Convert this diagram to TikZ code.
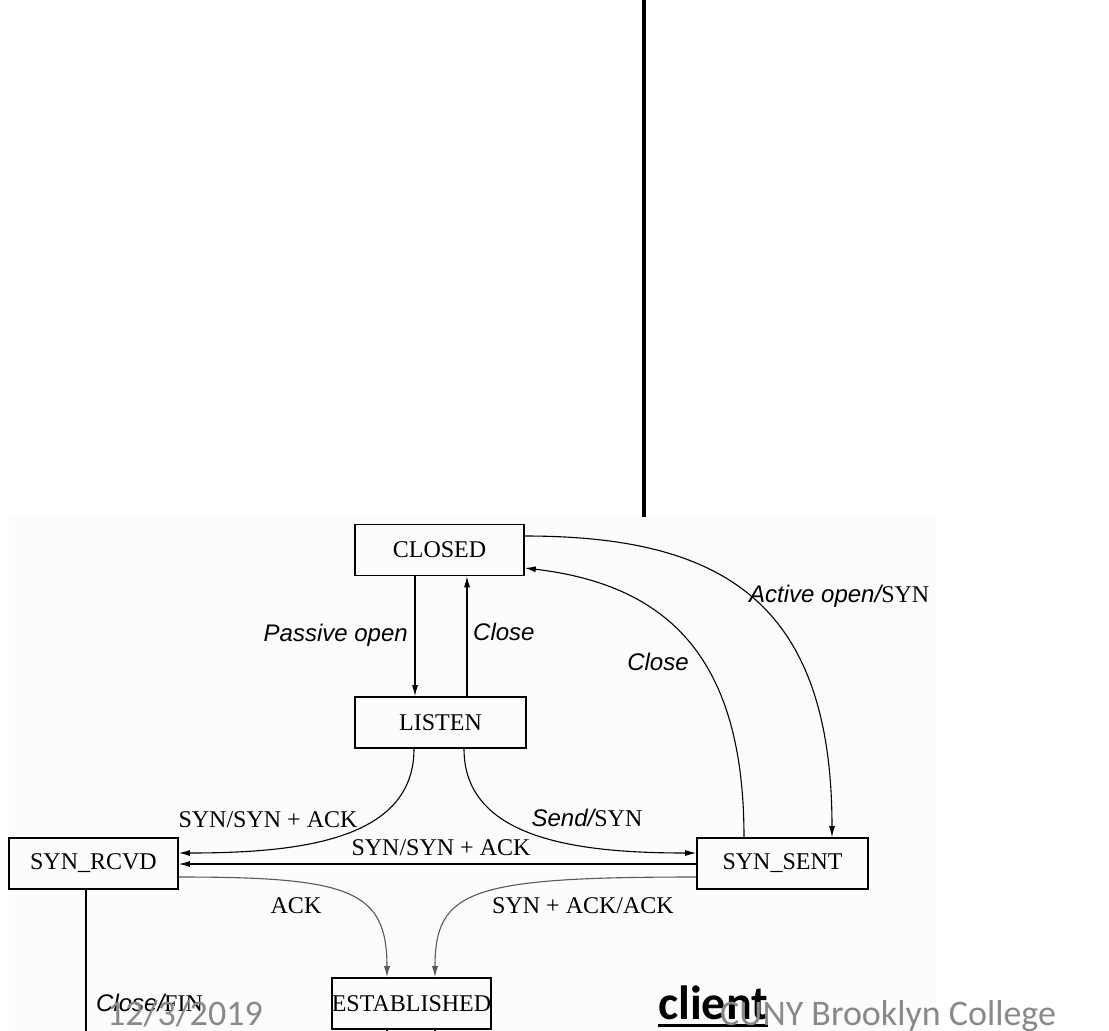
\documentclass[tikz,border=0pt]{standalone}
\usepackage{fontspec}
\setmainfont{Liberation Serif}
\newfontfamily\labfont{Liberation Sans}
\newfontfamily\footfont{Carlito}
\usetikzlibrary{arrows.meta,calc}
\definecolor{paper}{HTML}{FDFBFC}
\definecolor{footgray}{HTML}{898989}
\newcommand\evt[1]{{\labfont\itshape #1}}

\begin{document}
\begin{tikzpicture}[x=1pt,y=-1pt,
  state/.style={draw, line width=1.6pt, fill=paper, inner sep=0pt,
    minimum height=51pt, font=\fontsize{24}{24}\selectfont},
  trans/.style={line width=1.1pt, -{Latex[length=11pt,width=6pt]}},
  greytrans/.style={trans, draw=black!65},
  plainline/.style={line width=1.1pt},
  lbl/.style={inner sep=0pt, font=\fontsize{24}{24}\selectfont},
  foot/.style={inner sep=0pt, anchor=base west, text=footgray,
    font=\footfont\fontsize{36}{36}\selectfont}]

% page and figure panel
\useasboundingbox (0,0) rectangle (1109,1031);
\fill[white] (0,0) rectangle (1109,1031);
\fill[paper] (9,517) rectangle (936,1031);

% divider rule above the figure
\coordinate (ruletop) at (644,0);
\coordinate (rulebot) at (644,517);
\draw[line width=4pt] (ruletop) -- (rulebot);

% states
\node[state, minimum width=169pt] (closed) at (439.5,550) {CLOSED};
\node[state, minimum width=171pt] (listen) at (440.5,722.5) {LISTEN};
\node[state, minimum width=169pt] (synrcvd) at (93.5,863.5) {SYN\_RCVD};
\node[state, minimum width=171pt] (synsent) at (782.5,863.5) {SYN\_SENT};
\node[state, minimum width=159pt] (established) at (411.5,1003.5) {ESTABLISHED};

% loose ends running off the bottom
\coordinate (finend) at (86,1045);
\coordinate (estA) at (387,1045);
\coordinate (estB) at (435,1045);

% transitions
\draw[trans] ([xshift=-24.5pt]closed.south) -- ([xshift=-25.5pt]listen.north);
\draw[trans] ([xshift=26.5pt]listen.north) -- ([xshift=27.5pt]closed.south);
\draw[trans] ([yshift=14pt]closed.east) .. controls (720,536) and (832,600) .. ([xshift=49.5pt]synsent.north);
\draw[trans] ([xshift=-38.5pt]synsent.north) .. controls (744,660) and (670,585) .. ([yshift=-18pt]closed.east);
\draw[trans] ([xshift=-26.5pt]listen.south) .. controls (414,840) and (300,853) .. ([yshift=10.5pt]synrcvd.east);
\draw[trans] ([xshift=23.5pt]listen.south) .. controls (464,840) and (580,853) .. ([yshift=10.5pt]synsent.west);
\draw[trans] ([yshift=-0.5pt]synsent.west) -- ([yshift=-0.5pt]synrcvd.east);
\draw[greytrans] ([yshift=-13.5pt]synrcvd.east) .. controls (350,877) and (387,890) .. ([xshift=-24.5pt]established.north);
\draw[greytrans] ([yshift=-13.5pt]synsent.west) .. controls (470,877) and (435,890) .. ([xshift=23.5pt]established.north);
\draw[plainline] ([xshift=-7.5pt]synrcvd.south) -- (finend);
\draw[plainline] (established.south -| estA) -- (estA);
\draw[plainline] (established.south -| estB) -- (estB);

% transition labels
\node[lbl, anchor=base east] (lpassive) at (408,641) {\evt{Passive open}};
\node[lbl, anchor=base west] (lclose1) at (473,640) {\evt{Close}};
\node[lbl, anchor=base] (lclose2) at (658,670) {\evt{Close}};
\node[lbl, anchor=base west] (lactive) at (749,602) {\evt{Active open/}SYN};
\node[lbl, anchor=base] (lsyn1) at (268,827) {SYN/SYN + ACK};
\node[lbl, anchor=base] (lsyn2) at (441,855) {SYN/SYN + ACK};
\node[lbl, anchor=base] (lsend) at (587,826) {\evt{Send/}SYN};
\node[lbl, anchor=base] (lack) at (296,913) {ACK};
\node[lbl, anchor=base] (lsynack) at (583,913) {SYN + ACK/ACK};
\node[lbl, anchor=base west] (lfin) at (96,1011) {\evt{Close/}FIN};

% slide footer
\node[inner sep=0pt, anchor=base west, font=\footfont\fontsize{48}{48}\selectfont\bfseries] (client) at (658,1019) {client};
\draw[line width=3pt] ([yshift=-6.5pt]client.base west) -- ([yshift=-6.5pt]client.base east);
\node[foot] (date) at (107,1025) {12/3/2019};
\node[foot] (org) at (720,1025) {CUNY Brooklyn College};
\end{tikzpicture}
\end{document}
